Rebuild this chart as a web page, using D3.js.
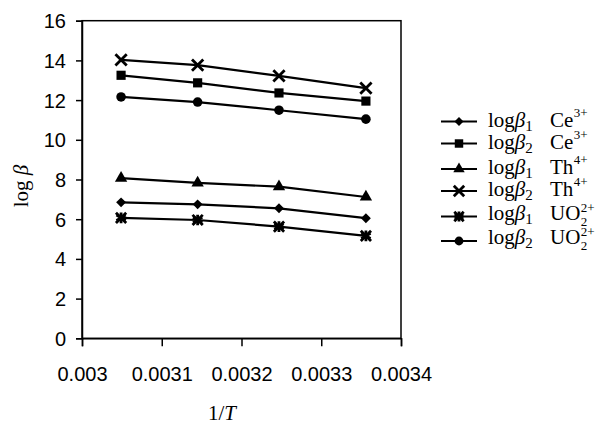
<!DOCTYPE html>
<html>
<head>
<meta charset="utf-8">
<script src="https://cdn.jsdelivr.net/npm/d3@7"></script>
<style>
  html, body { margin: 0; padding: 0; background: #fff; }
  svg { display: block; }
  text { font-family: "Liberation Serif", "Times New Roman", serif; fill: #000; }
  .tick text { font-family: "Liberation Sans", Arial, sans-serif; }
</style>
</head>
<body>
<svg id="chart" width="605" height="426"></svg>
<script>
// ---- data ----
const invT = [0.003049, 0.003145, 0.003247, 0.003356];
const logB1Ce = [6.85, 6.75, 6.55, 6.05];
const logB2Ce = [13.25, 12.87, 12.36, 11.95];
const logB1Th = [8.07, 7.83, 7.64, 7.12];
const logB2Th = [14.03, 13.76, 13.22, 12.6];
const logB1UO2 = [6.07, 5.96, 5.63, 5.16];
const logB2UO2 = [12.16, 11.9, 11.49, 11.04];
const xTicks = [0.003, 0.0031, 0.0032, 0.0033, 0.0034];
const xTickLabels = ["0.003", "0.0031", "0.0032", "0.0033", "0.0034"];
const yTicks = [0, 2, 4, 6, 8, 10, 12, 14, 16];

const series = [
  { beta: "1", ion: "Ce", sup: "3+", sub: null, values: logB1Ce, marker: "diamond" },
  { beta: "2", ion: "Ce", sup: "3+", sub: null, values: logB2Ce, marker: "square" },
  { beta: "1", ion: "Th", sup: "4+", sub: null, values: logB1Th, marker: "triangle" },
  { beta: "2", ion: "Th", sup: "4+", sub: null, values: logB2Th, marker: "times" },
  { beta: "1", ion: "UO", sup: "2+", sub: "2", values: logB1UO2, marker: "asterisk" },
  { beta: "2", ion: "UO", sup: "2+", sub: "2", values: logB2UO2, marker: "circle" }
];

// ---- layout ----
const svg = d3.select("#chart");
const L = 82, R = 401, T = 20.7, B = 338.3;
const x = d3.scaleLinear().domain([0.003, 0.0034]).range([L, R]);
const y = d3.scaleLinear().domain([0, 16]).range([B, T]);

// frame
svg.append("rect").attr("x", L).attr("y", T).attr("width", R - L).attr("height", B - T)
  .attr("fill", "none").attr("stroke", "#000").attr("stroke-width", 1.5);

// axes
const xAxis = svg.append("g").attr("transform", `translate(0,${B})`)
  .call(d3.axisBottom(x).tickValues(xTicks).tickFormat((d, i) => xTickLabels[i]).tickSize(8).tickPadding(20));
const yAxis = svg.append("g").attr("transform", `translate(${L},0)`)
  .call(d3.axisLeft(y).tickValues(yTicks).tickFormat(d3.format("d")).tickSize(6).tickPadding(10));
[xAxis, yAxis].forEach(g => {
  g.attr("font-family", null).attr("font-size", null);
  g.select(".domain").attr("stroke", "#000").attr("stroke-width", 1.5);
  g.selectAll(".tick line").attr("stroke", "#000").attr("stroke-width", 1.5);
  g.selectAll(".tick text")
    .style("font-family", "'Liberation Sans', Arial, sans-serif")
    .style("font-size", "20px").attr("fill", "#000");
});
xAxis.selectAll(".tick text").attr("dy", "0.71em").attr("y", 29);
yAxis.selectAll(".tick text").attr("dy", "0.35em");

// axis titles
const yt = svg.append("text").attr("transform", "translate(28,186) rotate(-90)")
  .attr("text-anchor", "middle").attr("font-size", 21);
yt.append("tspan").text("log ");
yt.append("tspan").attr("font-style", "italic").text("β");

const xt = svg.append("text").attr("x", 222).attr("y", 420).attr("text-anchor", "middle").attr("font-size", 21);
xt.append("tspan").text("1/");
xt.append("tspan").attr("font-style", "italic").text("T");

// markers
function markerPath(kind, scale) {
  const s = scale || 1;
  const map = {
    diamond: [d3.symbolDiamond2, 62],
    square: [d3.symbolSquare, 84],
    triangle: [d3.symbolTriangle, 66],
    times: [d3.symbolTimes, 85],
    asterisk: [d3.symbolAsterisk, 80],
    circle: [d3.symbolCircle, 72]
  };
  const [t, size] = map[kind];
  return d3.symbol().type(t).size(size * s)();
}
function drawMarker(g, kind, cx, cy, scale) {
  const stroked = kind === "times" || kind === "asterisk";
  const p = g.append("path").attr("d", markerPath(kind, scale))
    .attr("transform", `translate(${cx},${cy})`);
  if (stroked) {
    p.attr("fill", "none").attr("stroke", "#000").attr("stroke-width", 2.8);
    if (kind === "asterisk") {
      g.append("path").attr("d", d3.symbol().type(d3.symbolTimes).size(70 * (scale || 1))())
        .attr("transform", `translate(${cx},${cy})`)
        .attr("fill", "none").attr("stroke", "#000").attr("stroke-width", 2.8);
    }
  } else {
    p.attr("fill", "#000");
  }
}

const line = d3.line().x((d, i) => x(invT[i])).y(d => y(d));
const plot = svg.append("g");
series.forEach(s => {
  plot.append("path").datum(s.values).attr("d", line)
    .attr("fill", "none").attr("stroke", "#000").attr("stroke-width", 2.2);
  s.values.forEach((v, i) => drawMarker(plot, s.marker, x(invT[i]), y(v)));
});

// legend
const legY = [121.5, 143.5, 169, 191, 216.5, 241];
const leg = svg.append("g");
series.forEach((s, i) => {
  const ly = legY[i];
  leg.append("line").attr("x1", 441).attr("x2", 477).attr("y1", ly).attr("y2", ly)
    .attr("stroke", "#000").attr("stroke-width", 2.2);
  drawMarker(leg, s.marker, 459, ly, 0.85);
  const base = ly + (s.sub ? 3 : 5);
  // log beta_n
  const t1 = leg.append("text").attr("x", 488).attr("y", base).attr("font-size", 21);
  t1.append("tspan").text("log");
  t1.append("tspan").attr("font-style", "italic").text("β");
  t1.append("tspan").attr("font-size", 15).attr("dy", 4).text(s.beta);
  // ion
  const t2 = leg.append("text").attr("x", 550).attr("y", base).attr("font-size", 21).text(s.ion);
  const w = t2.node().getComputedTextLength();
  leg.append("text").attr("x", 550 + w + 0.5).attr("y", base - (s.sub ? 8 : 10)).attr("font-size", 13).text(s.sup);
  if (s.sub) {
    leg.append("text").attr("x", 550 + w + 0.5).attr("y", base + 6).attr("font-size", 13).text(s.sub);
  }
});
</script>
</body>
</html>
